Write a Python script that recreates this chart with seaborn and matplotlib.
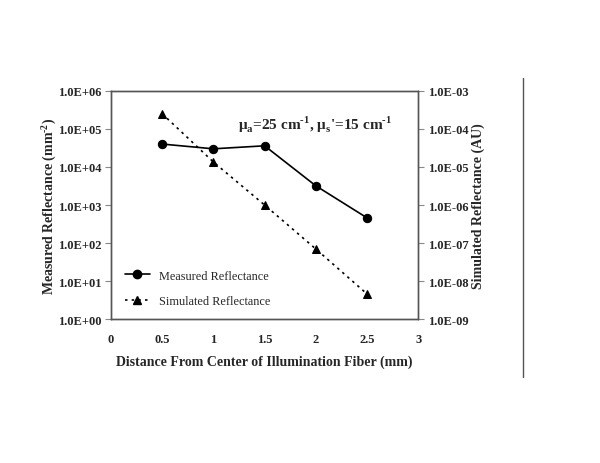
import numpy as np
import pandas as pd
import matplotlib
matplotlib.use("Agg")
import matplotlib.pyplot as plt
import seaborn as sns
from matplotlib.ticker import FuncFormatter, FixedLocator
from matplotlib.lines import Line2D

# Data
distance = [0.5, 1.0, 1.5, 2.0, 2.5]
measured = [4.0e4, 3.0e4, 3.6e4, 3.2e3, 4.6e2]
simulated = [2.5e-4, 1.35e-5, 1.0e-6, 7.0e-8, 4.6e-9]

sns.set_style("white")
plt.rcParams['font.family'] = ['Liberation Serif', 'DejaVu Serif']
plt.rcParams['mathtext.fontset'] = 'custom'
plt.rcParams['mathtext.rm'] = 'Liberation Serif'
plt.rcParams['mathtext.bf'] = 'Liberation Serif:bold'

fig = plt.figure(figsize=(6, 4.64), dpi=100)
ax = fig.add_axes([0.185, 0.31, 0.512, 0.492])
ax2 = ax.twinx()

df = pd.DataFrame({"distance": distance, "measured": measured, "simulated": simulated})

sns.lineplot(data=df, x="distance", y="measured", ax=ax, color="black",
             marker="o", markersize=6, markeredgecolor="black", linewidth=1.2)
sns.lineplot(data=df, x="distance", y="simulated", ax=ax2, color="black",
             marker="^", markersize=6, markeredgecolor="black", linewidth=1.2,
             linestyle=(0, (1.5, 2.5)))

sci = FuncFormatter(lambda v, p: f"{v:.1E}")
ax.set_yscale("log")
ax.set_ylim(1, 1e6)
ax.yaxis.set_major_locator(FixedLocator([10.0 ** k for k in range(0, 7)]))
ax.yaxis.set_major_formatter(sci)
ax.yaxis.set_minor_locator(FixedLocator([]))

ax2.set_yscale("log")
ax2.set_ylim(1e-9, 1e-3)
ax2.yaxis.set_major_locator(FixedLocator([10.0 ** k for k in range(-9, -2)]))
ax2.yaxis.set_major_formatter(sci)
ax2.yaxis.set_minor_locator(FixedLocator([]))

ax.set_xlim(0, 3)
ax.set_xticks(np.arange(0, 3.01, 0.5))
ax.xaxis.set_major_formatter(FuncFormatter(lambda v, p: f"{v:g}"))

for a in (ax, ax2):
    for s in a.spines.values():
        s.set_color("#555555")
        s.set_linewidth(1.0)
    a.tick_params(axis="both", which="major", direction="out", length=4,
                  color="#888888", labelsize=9, pad=3)
    for lab in a.get_xticklabels() + a.get_yticklabels():
        lab.set_fontweight("bold")
ax.tick_params(axis="x", pad=6)

ax.set_xlabel("Distance From Center of Illumination Fiber (mm)", fontsize=10,
              fontweight="bold", labelpad=7)
ax.set_ylabel("Measured Reflectance (mm$^{\\mathbf{\u2010}\\mathbf{2}}$)", fontsize=10,
              fontweight="bold", labelpad=0)
ax2.set_ylabel("Simulated Reflectance (AU)", fontsize=10, fontweight="bold", labelpad=2)

ax.text(0.414, 0.855,
        "$\\mathbf{\\mu}_{\\mathbf{a}}$=25 cm$^{\\mathbf{\u20101}}$, "
        "$\\mathbf{\\mu}_{\\mathbf{s}}$'=15 cm$^{\\mathbf{\u20101}}$",
        transform=ax.transAxes, fontsize=11, fontweight="bold", ha="left", va="center")

handles = [Line2D([], [], color="black", marker="o", markersize=6, linewidth=1.2),
           Line2D([], [], color="black", marker="^", markersize=6, linewidth=1.2,
                  linestyle=(0, (1.5, 2.5)))]
if ax.get_legend():
    ax.get_legend().remove()
if ax2.get_legend():
    ax2.get_legend().remove()
ax.legend(handles, ["Measured Reflectance", "Simulated Reflectance"],
          loc="lower left", bbox_to_anchor=(0.01, 0.005), frameon=False,
          fontsize=8.8, handlelength=2.0, labelspacing=1.1)

# vertical rule at the right of the page
fig.add_artist(Line2D([0.872, 0.872], [0.185, 0.83], transform=fig.transFigure,
                      color="#555555", linewidth=1.0))

fig.savefig("out.png", dpi=100)
